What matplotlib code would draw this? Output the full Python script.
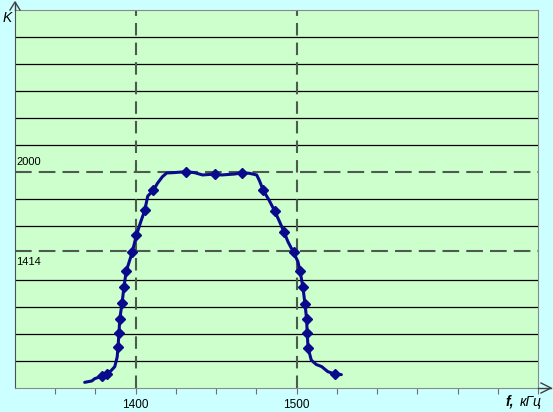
import numpy as np
import matplotlib
matplotlib.use("Agg")
import matplotlib.pyplot as plt

plt.rcParams.update({"font.family": ["Liberation Sans", "DejaVu Sans"]})

FIG_BG = "#ccffff"
AX_BG = "#ccffcc"
NAVY = "#0a0a8c"
DASH = "#4e5a4e"

# curve: frequency (kHz) vs K
curve_f = [1368.3, 1372.7, 1374.5, 1379.2, 1382.0, 1384.5, 1387.0, 1388.5, 1389.0,
           1389.6, 1390.1, 1391.5, 1392.7, 1394.1, 1397.8, 1400.4, 1403.1, 1405.6,
           1407.5, 1410.9, 1413.5, 1416.6, 1419.3, 1423.0, 1431.2, 1436.6, 1441.6,
           1449.1, 1453.4, 1461.5, 1466.3, 1470.8, 1475.2, 1477.0, 1479.3, 1482.8,
           1486.3, 1489.4, 1492.1, 1494.6, 1498.1, 1500.8, 1502.2, 1503.9, 1505.2,
           1506.2, 1506.6, 1507.1, 1509.1, 1512.2, 1515.5, 1519.4, 1523.6, 1527.8]
curve_k = [442, 452, 469, 489, 507, 526, 558, 630, 701,
           807, 911, 1027, 1146, 1264, 1404, 1530, 1630, 1715,
           1822, 1863, 1916, 1965, 1993, 1995, 2002, 1995, 1978,
           1985, 1978, 1985, 1995, 1990, 1978, 1933, 1863, 1793,
           1713, 1632, 1558, 1484, 1404, 1336, 1263, 1148, 1024,
           911, 805, 699, 607, 574, 559, 521, 504, 499]

# measured points (diamonds)
mark_f = [1379.2, 1382.0, 1389.0, 1389.6, 1390.1, 1391.5, 1392.7, 1394.1, 1397.8,
          1400.4, 1405.6, 1410.9, 1431.2, 1449.1, 1466.3, 1479.3, 1486.3, 1492.1,
          1498.1, 1502.2, 1503.9, 1505.2, 1506.2, 1506.6, 1507.1, 1523.6]
mark_k = [489, 507, 701, 807, 911, 1027, 1146, 1264, 1404,
          1530, 1715, 1863, 2002, 1985, 1995, 1863, 1713, 1558,
          1404, 1263, 1148, 1024, 911, 805, 699, 504]

K_LEVELS = [2000, 1414]
F_MARKS = [1400, 1500]
F_TICKS = np.arange(1350, 1651, 25)
K_GRID = [k for k in range(600, 3001, 200) if k not in (1400, 2000)]

W, H = 553, 412
fig = plt.figure(figsize=(W / 100, H / 100), dpi=100, facecolor=FIG_BG)
ax = fig.add_axes([15 / W, 24 / H, 523 / W, 378 / H], facecolor=AX_BG)
ax.set_xlim(1325, 1650)
ax.set_ylim(400, 3200)

for k in K_GRID:
    ax.axhline(k, color="black", lw=0.9, zorder=1)
for k in K_LEVELS:
    ax.axhline(k, color=DASH, lw=1.5, dashes=(8, 3.4), zorder=1)
for f in F_MARKS:
    ax.axvline(f, color=DASH, lw=1.5, dashes=(6, 3.4), zorder=1)

ax.plot(curve_f, curve_k, color=NAVY, lw=2.2, zorder=3, solid_capstyle="round")
ax.plot(mark_f, mark_k, "D", color=NAVY, ms=5.5, zorder=4)

ax.text(1325.6, 2000 + 40, "2000", fontsize=8, ha="left", va="bottom")
ax.text(1325.6, 1414 - 40, "1414", fontsize=8, ha="left", va="top")

ax.set_xticks(F_TICKS)
ax.set_xticklabels([str(f) if f in F_MARKS else "" for f in F_TICKS], fontsize=8.5)
ax.set_yticks([])
ax.tick_params(axis="x", length=4, color="#707070", pad=4)
for side in ["top", "right", "bottom"]:
    ax.spines[side].set_color("#8a8a8a")
ax.spines["left"].set_color("#505050")

# axis arrows
fig.add_artist(plt.Line2D([15 / W, 15 / W], [1 - 10 / H, 1 - 2 / H], color="#404040", lw=1))
fig.add_artist(plt.Line2D([10 / W, 15 / W, 20 / W], [1 - 10 / H, 1 - 2 / H, 1 - 10 / H],
                          color="#404040", lw=1))
fig.add_artist(plt.Line2D([538 / W, 551 / W], [24 / H, 24 / H], color="#404040", lw=1))
fig.add_artist(plt.Line2D([541 / W, 551 / W, 541 / W], [29 / H, 24 / H, 19 / H],
                          color="#404040", lw=1))

fig.text(3 / W, 1 - 18 / H, "K", fontsize=10, style="italic", va="center", ha="left")
fig.text(505 / W, 1 - 402 / H, "f,", fontsize=10, style="italic", weight="bold",
         va="center", ha="left")
fig.text(520 / W, 1 - 402 / H, "кГц", fontsize=10, style="italic",
         va="center", ha="left")

fig.savefig("out.png", dpi=100, facecolor=FIG_BG)
